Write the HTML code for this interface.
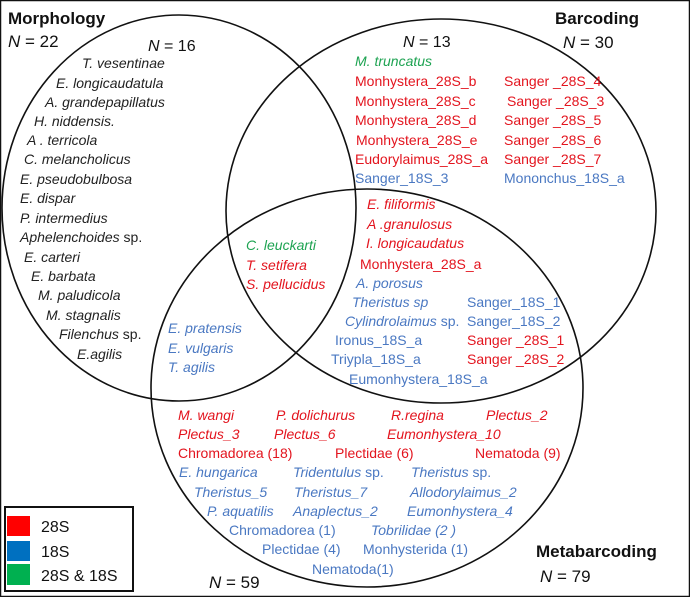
<!DOCTYPE html>
<html><head><meta charset="utf-8"><style>
html,body{margin:0;padding:0;background:#fff}
svg{display:block}
text{font-family:"Liberation Sans",sans-serif;font-size:14px}
.i{font-style:italic}
.k{fill:#222}.r{fill:#e3141e}.b{fill:#4a78c2}.g{fill:#1ea352}
.h{font-weight:bold;font-size:17px;fill:#111}
.n{font-size:17px;fill:#111}
</style></head><body>
<svg width="690" height="597" viewBox="0 0 690 597" xmlns="http://www.w3.org/2000/svg">
<rect x="0.5" y="0.5" width="689" height="596" fill="#fff" stroke="#111" stroke-width="1.5"/>
<g fill="none" stroke="#111" stroke-width="1.6">
<ellipse cx="179" cy="208" rx="177" ry="193"/>
<ellipse cx="441" cy="211" rx="215" ry="192"/>
<ellipse cx="367" cy="388" rx="216" ry="199"/>
</g>
<text x="8" y="24" class="h">Morphology</text>
<text x="8" y="47" class="n"><tspan class="i">N</tspan> = 22</text>
<text x="148" y="51" class="n" style="font-size:16px"><tspan class="i">N</tspan> = 16</text>
<text x="403" y="47" class="n" style="font-size:16px"><tspan class="i">N</tspan> = 13</text>
<text x="555" y="24" class="h">Barcoding</text>
<text x="563" y="48" class="n"><tspan class="i">N</tspan> = 30</text>
<text x="536" y="557" class="h">Metabarcoding</text>
<text x="540" y="582" class="n"><tspan class="i">N</tspan> = 79</text>
<text x="209" y="588" class="n"><tspan class="i">N</tspan> = 59</text>

<g class="i k">
<text x="82" y="68" class="i k">T. vesentinae</text>
<text x="56" y="88" class="i k">E. longicaudatula</text>
<text x="45" y="107" class="i k">A. grandepapillatus</text>
<text x="34" y="126" class="i k">H. niddensis.</text>
<text x="27" y="145" class="i k">A . terricola</text>
<text x="24" y="164" class="i k">C. melancholicus</text>
<text x="20" y="184" class="i k">E. pseudobulbosa</text>
<text x="20" y="203" class="i k">E. dispar</text>
<text x="20" y="223" class="i k">P. intermedius</text>
<text x="20" y="242" class="i k">Aphelenchoides<tspan style="font-style:normal"> sp.</tspan></text>
<text x="24" y="262" class="i k">E. carteri</text>
<text x="31" y="281" class="i k">E. barbata</text>
<text x="38" y="300" class="i k">M. paludicola</text>
<text x="46" y="320" class="i k">M. stagnalis</text>
<text x="59" y="339" class="i k">Filenchus<tspan style="font-style:normal"> sp.</tspan></text>
<text x="77" y="359" class="i k">E.agilis</text>
</g>

<text x="355" y="66" class="i g">M. truncatus</text>
<text x="355" y="86" class="r">Monhystera_28S_b</text>
<text x="355" y="106" class="r">Monhystera_28S_c</text>
<text x="355" y="125" class="r">Monhystera_28S_d</text>
<text x="356" y="145" class="r">Monhystera_28S_e</text>
<text x="355" y="164" class="r">Eudorylaimus_28S_a</text>
<text x="355" y="183" class="b">Sanger_18S_3</text>
<text x="504" y="86" class="r">Sanger _28S_4</text>
<text x="507" y="106" class="r">Sanger _28S_3</text>
<text x="504" y="125" class="r">Sanger _28S_5</text>
<text x="504" y="145" class="r">Sanger _28S_6</text>
<text x="504" y="164" class="r">Sanger _28S_7</text>
<text x="504" y="183" class="b">Mononchus_18S_a</text>

<text x="367" y="209" class="i r">E. filiformis</text>
<text x="367" y="229" class="i r">A .granulosus</text>
<text x="366" y="248" class="i r">I. longicaudatus</text>
<text x="360" y="269" class="r">Monhystera_28S_a</text>
<text x="356" y="288" class="i b">A. porosus</text>
<text x="352" y="307" class="i b">Theristus sp</text>
<text x="345" y="326" class="i b">Cylindrolaimus<tspan style="font-style:normal"> sp.</tspan></text>
<text x="335" y="345" class="b">Ironus_18S_a</text>
<text x="331" y="364" class="b">Triypla_18S_a</text>
<text x="349" y="384" class="b">Eumonhystera_18S_a</text>
<text x="467" y="307" class="b">Sanger_18S_1</text>
<text x="467" y="326" class="b">Sanger_18S_2</text>
<text x="467" y="345" class="r">Sanger _28S_1</text>
<text x="467" y="364" class="r">Sanger _28S_2</text>

<text x="246" y="250" class="i g">C. leuckarti</text>
<text x="246" y="270" class="i r">T. setifera</text>
<text x="246" y="289" class="i r">S. pellucidus</text>

<text x="168" y="333" class="i b">E. pratensis</text>
<text x="168" y="353" class="i b">E. vulgaris</text>
<text x="168" y="372" class="i b">T. agilis</text>

<text x="178" y="420" class="i r">M. wangi</text>
<text x="276" y="420" class="i r">P. dolichurus</text>
<text x="391" y="420" class="i r">R.regina</text>
<text x="486" y="420" class="i r">Plectus_2</text>
<text x="178" y="439" class="i r">Plectus_3</text>
<text x="274" y="439" class="i r">Plectus_6</text>
<text x="387" y="439" class="i r">Eumonhystera_10</text>
<text x="178" y="458" class="r">Chromadorea (18)</text>
<text x="335" y="458" class="r">Plectidae (6)</text>
<text x="475" y="458" class="r">Nematoda (9)</text>
<text x="179" y="477" class="i b">E. hungarica</text>
<text x="293" y="477" class="i b">Tridentulus<tspan style="font-style:normal"> sp.</tspan></text>
<text x="411" y="477" class="i b">Theristus<tspan style="font-style:normal"> sp.</tspan></text>
<text x="194" y="497" class="i b">Theristus_5</text>
<text x="294" y="497" class="i b">Theristus_7</text>
<text x="410" y="497" class="i b">Allodorylaimus_2</text>
<text x="207" y="516" class="i b">P. aquatilis</text>
<text x="293" y="516" class="i b">Anaplectus_2</text>
<text x="407" y="516" class="i b">Eumonhystera_4</text>
<text x="229" y="535" class="b">Chromadorea (1)</text>
<text x="371" y="535" class="i b">Tobrilidae (2 )</text>
<text x="262" y="554" class="b">Plectidae (4)</text>
<text x="363" y="554" class="b">Monhysterida (1)</text>
<text x="312" y="574" class="b">Nematoda(1)</text>

<rect x="5" y="507" width="128" height="84" fill="#fff" stroke="#111" stroke-width="2"/>
<rect x="7" y="516" width="23" height="20" fill="#ff0000"/>
<rect x="7" y="541" width="23" height="20" fill="#0070c0"/>
<rect x="7" y="564" width="23" height="21" fill="#00b050"/>
<text x="41" y="532" style="font-size:16px" fill="#111">28S</text>
<text x="41" y="557" style="font-size:16px" fill="#111">18S</text>
<text x="41" y="581" style="font-size:16px" fill="#111">28S &amp; 18S</text>
</svg>
</body></html>
